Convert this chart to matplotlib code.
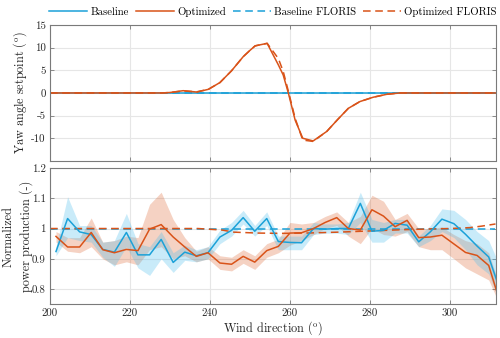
import numpy as np
import matplotlib
matplotlib.use("Agg")
import matplotlib.pyplot as plt

plt.rcParams['font.family'] = ['cmr10', 'DejaVu Serif']
plt.rcParams['mathtext.fontset'] = 'cm'
plt.rcParams['axes.unicode_minus'] = False
plt.rcParams['axes.formatter.use_mathtext'] = False

# ---------------- data: yaw setpoints ----------------
yaw_dir = [200, 228, 230, 233.3, 236.7, 239.6, 242.5, 245.4, 248.3, 250, 251.3, 254.3,
           257.1, 258.3, 259.6, 261.3, 263.2, 265.8, 269.2, 272.0, 274.6, 277.5, 280.8,
           284.2, 287.5, 290, 311.4]
yaw_opt = [0, 0, 0.1, 0.5, 0.2, 0.8, 2.3, 4.9, 8.0, 9.4, 10.4, 10.95,
           6.2, 4.0, 0.0, -6.0, -10.0, -10.6, -8.5, -5.8, -3.4, -1.9, -0.95,
           -0.3, 0, 0, 0]
yaw_opt_floris = [0, 0, 0.1, 0.45, 0.25, 0.8, 2.3, 4.9, 8.0, 9.4, 10.4, 10.95,
                  7.6, 4.8, 0.4, -5.6, -10.4, -10.7, -8.5, -5.8, -3.4, -1.9, -0.95,
                  -0.3, 0, 0, 0]
yaw_base = [0] * len(yaw_dir)

# ---------------- data: normalized power ----------------
wind_dir = [201.5, 204.4, 207.4, 210.3, 213.2, 216.1, 219.1, 222.0, 224.9, 227.8,
            230.8, 233.7, 236.6, 239.5, 242.5, 245.4, 248.3, 251.2, 254.2, 257.1,
            260.0, 262.9, 265.9, 268.8, 271.7, 274.6, 277.6, 280.5, 283.4, 286.3,
            289.3, 292.2, 295.1, 298.0, 301.0, 303.9, 306.8, 309.7, 312.7]

p_base = [0.924, 1.033, 0.989, 0.980, 0.931, 0.922, 0.987, 0.913, 0.913, 0.964,
          0.888, 0.922, 0.910, 0.920, 0.972, 0.994, 1.036, 0.991, 1.033, 0.957,
          0.954, 0.953, 1.000, 0.998, 1.000, 1.000, 1.083, 0.991, 0.994, 1.017,
          1.011, 0.956, 0.989, 1.031, 1.016, 0.981, 0.942, 0.906, 0.790]
p_base_lo = [0.910, 0.970, 0.960, 0.955, 0.905, 0.875, 0.940, 0.870, 0.845, 0.900,
             0.855, 0.895, 0.890, 0.900, 0.950, 0.975, 1.015, 0.975, 1.010, 0.930,
             0.930, 0.930, 0.980, 0.985, 0.985, 0.980, 1.020, 0.955, 0.955, 0.985,
             0.985, 0.940, 0.960, 0.990, 0.970, 0.930, 0.880, 0.850, 0.750]
p_base_hi = [0.940, 1.105, 1.010, 1.010, 0.955, 0.960, 1.050, 0.950, 0.940, 0.990,
             0.920, 0.945, 0.930, 0.940, 0.995, 1.020, 1.060, 1.010, 1.055, 0.975,
             0.975, 0.975, 1.020, 1.015, 1.015, 1.020, 1.120, 1.030, 1.020, 1.030,
             1.030, 0.975, 1.010, 1.065, 1.060, 1.030, 0.990, 0.960, 0.870]

p_opt = [0.974, 0.939, 0.939, 0.987, 0.930, 0.920, 0.931, 0.927, 0.998, 1.013,
         0.972, 0.939, 0.908, 0.920, 0.886, 0.882, 0.908, 0.889, 0.927, 0.941,
         0.985, 0.986, 1.000, 1.020, 1.036, 1.000, 0.995, 1.062, 1.041, 1.006,
         1.027, 0.970, 0.972, 0.978, 0.949, 0.921, 0.911, 0.878, 0.750]
p_opt_lo = [0.955, 0.925, 0.920, 0.940, 0.900, 0.880, 0.890, 0.880, 0.930, 0.940,
            0.900, 0.910, 0.890, 0.900, 0.865, 0.860, 0.885, 0.865, 0.905, 0.920,
            0.945, 0.960, 0.980, 1.000, 1.010, 0.975, 0.950, 1.000, 0.980, 0.975,
            0.990, 0.940, 0.930, 0.930, 0.900, 0.870, 0.850, 0.830, 0.740]
p_opt_hi = [0.990, 0.970, 0.970, 1.035, 0.955, 0.960, 0.975, 0.970, 1.080, 1.120,
            1.030, 0.970, 0.925, 0.940, 0.910, 0.905, 0.930, 0.910, 0.950, 0.965,
            1.020, 1.015, 1.020, 1.040, 1.055, 1.020, 1.040, 1.110, 1.090, 1.030,
            1.050, 1.000, 1.000, 1.005, 0.980, 0.960, 0.950, 0.920, 0.800]

floris_dir = [200, 237, 243, 246, 252, 258, 264, 272, 280, 288, 296, 300, 305, 308, 311.4]
floris_base = [1.0, 1.0, 1.0, 1.0, 1.0, 1.0, 1.0, 1.0, 1.0, 1.0, 1.0, 1.0, 1.0, 1.0, 1.0]
floris_opt = [1.0, 1.0, 0.995, 0.988, 0.985, 0.984, 0.985, 0.988, 0.992, 0.996,
              0.999, 1.0, 1.003, 1.008, 1.015]

x_ticks = [200, 220, 240, 260, 280, 300]
yaw_ticks = [-10, -5, 0, 5, 10, 15]
pow_ticks = [0.8, 0.9, 1.0, 1.1, 1.2]
pow_ticklabels = ['0.8', '0.9', '1', '1.1', '1.2']

# ---------------- styling ----------------
c_base = '#1BA1D8'
c_opt = '#D95319'
c_base_fill = '#4DBEEE'
c_opt_fill = '#D95319'
spine_c = '#7a7a7a'
tick_c = '#262626'

fig = plt.figure(figsize=(5.0, 3.38), dpi=100)
ax1 = fig.add_axes([0.100, 0.524, 0.891, 0.402])
ax2 = fig.add_axes([0.100, 0.100, 0.891, 0.403])

def style(ax):
    ax.grid(True, color='#e6e6e6', linewidth=0.8)
    ax.set_axisbelow(True)
    for s in ax.spines.values():
        s.set_color(spine_c)
        s.set_linewidth(0.8)
    ax.tick_params(direction='in', length=3, width=0.6, color=spine_c,
                   top=True, right=True, labelsize=7.8, labelcolor=tick_c, pad=3)
    ax.set_xlim(200, 311.4)
    ax.set_xticks(x_ticks)

style(ax1)
style(ax2)

# top panel
l1, = ax1.plot(yaw_dir, yaw_base, color=c_base, lw=1.1, label='Baseline')
l3, = ax1.plot(yaw_dir, yaw_base, color=c_base, lw=1.1, ls=(0, (5, 3)), label='Baseline FLORIS')
l4, = ax1.plot(yaw_dir, yaw_opt_floris, color=c_opt, lw=1.1, ls=(0, (5, 3)), label='Optimized FLORIS')
l2, = ax1.plot(yaw_dir, yaw_opt, color=c_opt, lw=1.1, label='Optimized')
ax1.set_ylim(-15, 15)
ax1.set_yticks(yaw_ticks)
ax1.set_xticklabels([])
ax1.set_ylabel(r'Yaw angle setpoint $(^\mathrm{o})$', fontsize=8.8, color=tick_c)
ax1.yaxis.set_label_coords(-0.047, 0.5)

# bottom panel
ax2.fill_between(wind_dir, p_opt_lo, p_opt_hi, color=c_opt_fill, alpha=0.26, lw=0)
ax2.fill_between(wind_dir, p_base_lo, p_base_hi, color=c_base_fill, alpha=0.3, lw=0)
ax2.plot(floris_dir, floris_base, color=c_base, lw=1.1, ls=(0, (5, 3)))
ax2.plot(floris_dir, floris_opt, color=c_opt, lw=1.1, ls=(0, (5, 3)))
ax2.plot(wind_dir, p_base, color=c_base, lw=1.1)
ax2.plot(wind_dir, p_opt, color=c_opt, lw=1.1)
ax2.set_ylim(0.75, 1.2)
ax2.set_yticks(pow_ticks)
ax2.set_yticklabels(pow_ticklabels)
ax2.set_xlabel(r'Wind direction $(^\mathrm{o})$', fontsize=8.8, color=tick_c, labelpad=1)
ax2.set_ylabel('Normalized\npower production (-)', fontsize=8.8, color=tick_c,
               linespacing=1.45)
ax2.yaxis.set_label_coords(-0.038, 0.5)

fig.legend(handles=[l1, l2, l3, l4],
           labels=['Baseline', 'Optimized', 'Baseline FLORIS', 'Optimized FLORIS'],
           loc='center', bbox_to_anchor=(0.546, 0.965), ncol=4, frameon=False,
           fontsize=7.8, handlelength=3.5, columnspacing=0.65, handletextpad=0.3,
           borderaxespad=0)

fig.savefig('out.png', dpi=100)
